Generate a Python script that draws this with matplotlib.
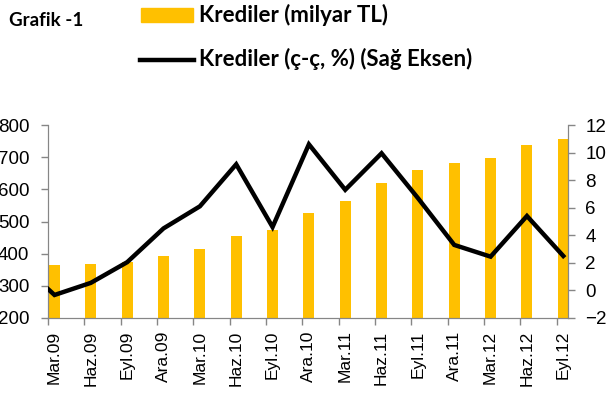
import numpy as np
import matplotlib
matplotlib.use("Agg")
import matplotlib.pyplot as plt
from matplotlib.patches import Rectangle
from matplotlib.lines import Line2D

# quarterly labels
labels = ["Mar.09", "Haz.09", "Eyl.09", "Ara.09", "Mar.10", "Haz.10", "Eyl.10", "Ara.10",
          "Mar.11", "Haz.11", "Eyl.11", "Ara.11", "Mar.12", "Haz.12", "Eyl.12"]
# krediler, milyar TL (left axis)
krediler = [365, 368, 375, 393, 416, 455, 475, 525, 563, 620, 661, 682, 698, 737, 755]
# krediler ceyrek degisim % (right axis); first value is Ara.08, off the left edge
degisim_onceki = 2.1
degisim = [-0.33, 0.55, 2.05, 4.5, 6.1, 9.15, 4.6, 10.6, 7.3, 9.95, 6.7, 3.3, 2.45, 5.4, 2.5]

gold = "#FFC000"
gray = "#868686"

fig = plt.figure(figsize=(6.06, 4.0), dpi=100)
ax = fig.add_axes([48 / 606, 1 - 318 / 400, 520 / 606, 193 / 400])
ax2 = ax.twinx()

x = np.arange(len(labels))
ax.bar(x, krediler, width=0.30, color=gold, zorder=2)
ax.set_ylim(200, 800)
ax.set_yticks(range(200, 801, 100))
ax.set_xlim(-0.179, 14.13)

xl = np.concatenate([[-1], x])
yl = np.concatenate([[degisim_onceki], degisim])
ax2.plot(xl, yl, color="black", lw=3.2, solid_joinstyle="miter", zorder=3)
ax2.set_ylim(-2, 12)
ax2.set_yticks(range(-2, 13, 2))
ax2.set_xlim(-0.179, 14.13)

# labels under bar centers, tick marks at category edges
ax.set_xticks(x)
ax.set_xticklabels(labels, rotation=90, fontsize=12.5, family="Liberation Sans")
ax.tick_params(axis="x", length=0, pad=9)
ax.set_xticks(x - 0.179, minor=True)
ax.tick_params(axis="x", which="minor", length=5, color=gray, width=1)
ax.tick_params(axis="y", length=5, color=gray, width=1, pad=8.5, labelsize=13.5)
ax2.tick_params(axis="y", length=5, color=gray, width=1, pad=7.5, labelsize=13.5)
for a in (ax, ax2):
    for lab in a.get_yticklabels():
        lab.set_family("Liberation Sans")
    for s in a.spines.values():
        s.set_color(gray)
    a.spines["top"].set_visible(False)

# header and legend
fig.text(9 / 606, 1 - 21 / 400, "Grafik -1", fontsize=13.5, fontweight="bold",
         family="Lato", va="center", ha="left")
fig.patches.append(Rectangle((141 / 606, 1 - 22 / 400), 52 / 606, 14 / 400,
                             transform=fig.transFigure, color=gold))
fig.lines.append(Line2D([140 / 606, 194 / 606], [1 - 60 / 400, 1 - 60 / 400],
                        transform=fig.transFigure, color="black", lw=3.2))
fig.text(199 / 606, 1 - 15 / 400, "Krediler (milyar TL)", fontsize=16, fontweight="bold",
         family="Lato", va="center", ha="left")
fig.text(199 / 606, 1 - 59 / 400, "Krediler (ç-ç, %) (Sağ Eksen)", fontsize=16,
         fontweight="bold", family="Lato", va="center", ha="left")

fig.savefig("out.png", dpi=100)
